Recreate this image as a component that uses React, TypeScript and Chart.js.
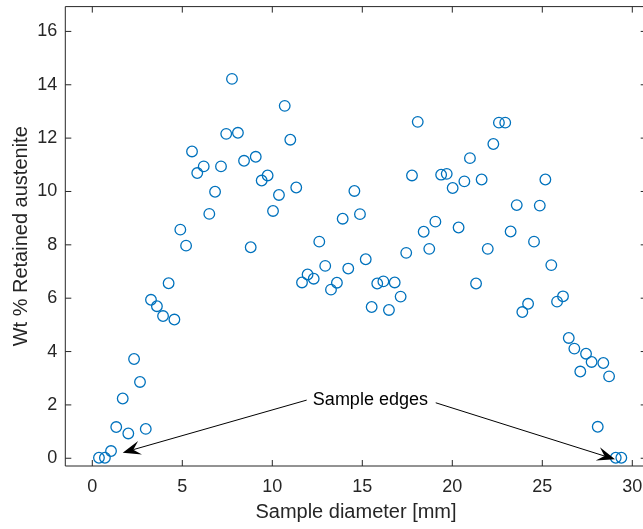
import React, { useEffect, useRef } from "react";
import { Chart, registerables } from "chart.js";

Chart.register(...registerables);

// ---- data ----
const diameterMm = [
  0.37, 0.7, 1.04, 1.33, 1.69, 2.0, 2.32, 2.65, 2.97, 3.26, 3.59, 3.93, 4.24, 4.56, 4.89, 5.21,
  5.54, 5.83, 6.19, 6.5, 6.82, 7.15, 7.44, 7.76, 8.09, 8.43, 8.8, 9.08, 9.41, 9.74, 10.04, 10.37,
  10.69, 11.0, 11.33, 11.65, 11.96, 12.3, 12.61, 12.94, 13.26, 13.59, 13.91, 14.22, 14.56, 14.87,
  15.19, 15.52, 15.83, 16.17, 16.48, 16.8, 17.13, 17.44, 17.76, 18.08, 18.41, 18.72, 19.06, 19.38,
  19.69, 20.02, 20.35, 20.67, 20.98, 21.32, 21.63, 21.97, 22.28, 22.59, 22.94, 23.24, 23.58, 23.89,
  24.21, 24.54, 24.86, 25.17, 25.5, 25.82, 26.15, 26.47, 26.78, 27.11, 27.43, 27.74, 28.08, 28.39,
  28.71, 29.08, 29.39,
];
const retainedAustenite = [
  0.02, 0.02, 0.27, 1.17, 2.24, 0.93, 3.72, 2.86, 1.1, 5.94, 5.7, 5.33, 6.56, 5.2, 8.57, 7.97,
  11.5, 10.69, 10.94, 9.16, 9.99, 10.94, 12.16, 14.22, 12.2, 11.15, 7.91, 11.3, 10.41, 10.6, 9.27, 9.87,
  13.21, 11.94, 10.15, 6.59, 6.89, 6.73, 8.12, 7.21, 6.32, 6.58, 8.98, 7.11, 10.02, 9.15,
  7.46, 5.67, 6.55, 6.63, 5.56, 6.59, 6.06, 7.7, 10.6, 12.61, 8.49, 7.85, 8.87, 10.63,
  10.66, 10.13, 8.65, 10.38, 11.25, 6.55, 10.45, 7.85, 11.78, 12.58, 12.58, 8.5, 9.49, 5.48,
  5.79, 8.12, 9.47, 10.45, 7.24, 5.87, 6.07, 4.51, 4.11, 3.25, 3.92, 3.61, 1.18, 3.57,
  3.07, 0.02, 0.02,
];
const xTickValues = [0, 5, 10, 15, 20, 25, 30];
const yTickValues = [0, 2, 4, 6, 8, 10, 12, 14, 16];
const xAxisTitle = "Sample diameter [mm]";
const yAxisTitle = "Wt % Retained austenite";
const annotationText = "Sample edges";
// annotation in data units: text anchor, then arrows [tailX, tailY, tipX, tipY]
const annotationTextAt = [15.45, 2.2];
const annotationArrows = [
  [11.91, 2.18, 1.69, 0.21],
  [19.08, 2.08, 29.04, -0.04],
];

const FONT = '"Liberation Sans", Arial, Helvetica, sans-serif';
const AXIS_COLOR = "#262626";
const MARKER_COLOR = "#0072BD";

const framePlugin = {
  id: "matlabFrame",
  afterDatasetsDraw(chart: any) {
    const { ctx, chartArea: a, scales } = chart;
    const xs = scales.x;
    const ys = scales.y;
    const tl = 6;
    ctx.save();
    ctx.strokeStyle = AXIS_COLOR;
    ctx.lineWidth = 1;
    ctx.beginPath();
    ctx.rect(a.left, a.top, a.right - a.left, a.bottom - a.top);
    for (const v of xTickValues) {
      const px = xs.getPixelForValue(v);
      ctx.moveTo(px, a.bottom);
      ctx.lineTo(px, a.bottom - tl);
      ctx.moveTo(px, a.top);
      ctx.lineTo(px, a.top + tl);
    }
    for (const v of yTickValues) {
      const py = ys.getPixelForValue(v);
      ctx.moveTo(a.left, py);
      ctx.lineTo(a.left + tl, py);
      ctx.moveTo(a.right, py);
      ctx.lineTo(a.right - tl, py);
    }
    ctx.stroke();

    // annotation
    ctx.strokeStyle = "#000";
    ctx.fillStyle = "#000";
    ctx.lineWidth = 1;
    for (const [tx, ty, hx, hy] of annotationArrows) {
      const x0 = xs.getPixelForValue(tx);
      const y0 = ys.getPixelForValue(ty);
      const x1 = xs.getPixelForValue(hx);
      const y1 = ys.getPixelForValue(hy);
      const dx = x1 - x0;
      const dy = y1 - y0;
      const len = Math.hypot(dx, dy);
      const ux = dx / len;
      const uy = dy / len;
      const nx = -uy;
      const ny = ux;
      const L = 18;
      const W = 7;
      const N = 11;
      ctx.beginPath();
      ctx.moveTo(x0, y0);
      ctx.lineTo(x1 - ux * N, y1 - uy * N);
      ctx.stroke();
      ctx.beginPath();
      ctx.moveTo(x1, y1);
      ctx.lineTo(x1 - ux * L + nx * W, y1 - uy * L + ny * W);
      ctx.lineTo(x1 - ux * N, y1 - uy * N);
      ctx.lineTo(x1 - ux * L - nx * W, y1 - uy * L - ny * W);
      ctx.closePath();
      ctx.fill();
    }
    ctx.font = `18px ${FONT}`;
    ctx.textAlign = "center";
    ctx.textBaseline = "middle";
    ctx.fillText(
      annotationText,
      xs.getPixelForValue(annotationTextAt[0]),
      ys.getPixelForValue(annotationTextAt[1])
    );
    ctx.restore();
  },
};

export default function App() {
  const ref = useRef<HTMLCanvasElement | null>(null);
  useEffect(() => {
    if (!ref.current) return;
    const chart = new Chart(ref.current, {
      type: "scatter",
      data: {
        datasets: [
          {
            data: diameterMm.map((x, i) => ({ x, y: retainedAustenite[i] })),
            borderColor: MARKER_COLOR,
            backgroundColor: "rgba(0,0,0,0)",
            borderWidth: 1.3,
            pointRadius: 5.3,
            pointHoverRadius: 5.3,
            pointStyle: "circle",
          },
        ],
      },
      options: {
        responsive: false,
        animation: false,
        devicePixelRatio: 1,
        layout: { padding: { left: 0, top: 5.3, right: 13.3, bottom: 0 } },
        plugins: {
          legend: { display: false },
          tooltip: { enabled: false },
        },
        events: [],
        scales: {
          x: {
            type: "linear",
            min: -1.5,
            max: 30.8,
            grid: { display: false, drawTicks: false },
            border: { display: false },
            afterBuildTicks: (s: any) => {
              s.ticks = xTickValues.map((v) => ({ value: v }));
            },
            afterFit: (s: any) => {
              s.height = 63;
              s.paddingLeft = 0;
              s.paddingRight = 0;
              s.paddingTop = 0;
              s.paddingBottom = 0;
            },
            ticks: {
              color: AXIS_COLOR,
              font: { family: FONT, size: 18 },
              padding: 10,
              maxRotation: 0,
              autoSkip: false,
            },
            title: {
              display: true,
              text: xAxisTitle,
              color: AXIS_COLOR,
              font: { family: FONT, size: 20 },
              padding: { top: 0, bottom: 4.5 },
            },
          },
          y: {
            type: "linear",
            min: -0.29,
            max: 16.93,
            grid: { display: false, drawTicks: false },
            border: { display: false },
            afterBuildTicks: (s: any) => {
              s.ticks = yTickValues.map((v) => ({ value: v }));
            },
            afterFit: (s: any) => {
              s.width = 65.3;
              s.paddingLeft = 0;
              s.paddingRight = 0;
              s.paddingTop = 0;
              s.paddingBottom = 0;
            },
            ticks: {
              color: AXIS_COLOR,
              font: { family: FONT, size: 18 },
              padding: 8,
              autoSkip: false,
            },
            title: {
              display: true,
              text: yAxisTitle,
              color: AXIS_COLOR,
              font: { family: FONT, size: 20 },
              padding: { top: 9.5, bottom: 0 },
            },
          },
        },
      },
      plugins: [framePlugin],
    });
    return () => chart.destroy();
  }, []);

  return (
    <div
      style={{
        position: "absolute",
        left: 0,
        top: 0,
        width: 643,
        height: 529,
        overflow: "hidden",
        background: "#fff",
      }}
    >
      <canvas ref={ref} width={660} height={529} style={{ display: "block", width: 660, height: 529 }} />
    </div>
  );
}
